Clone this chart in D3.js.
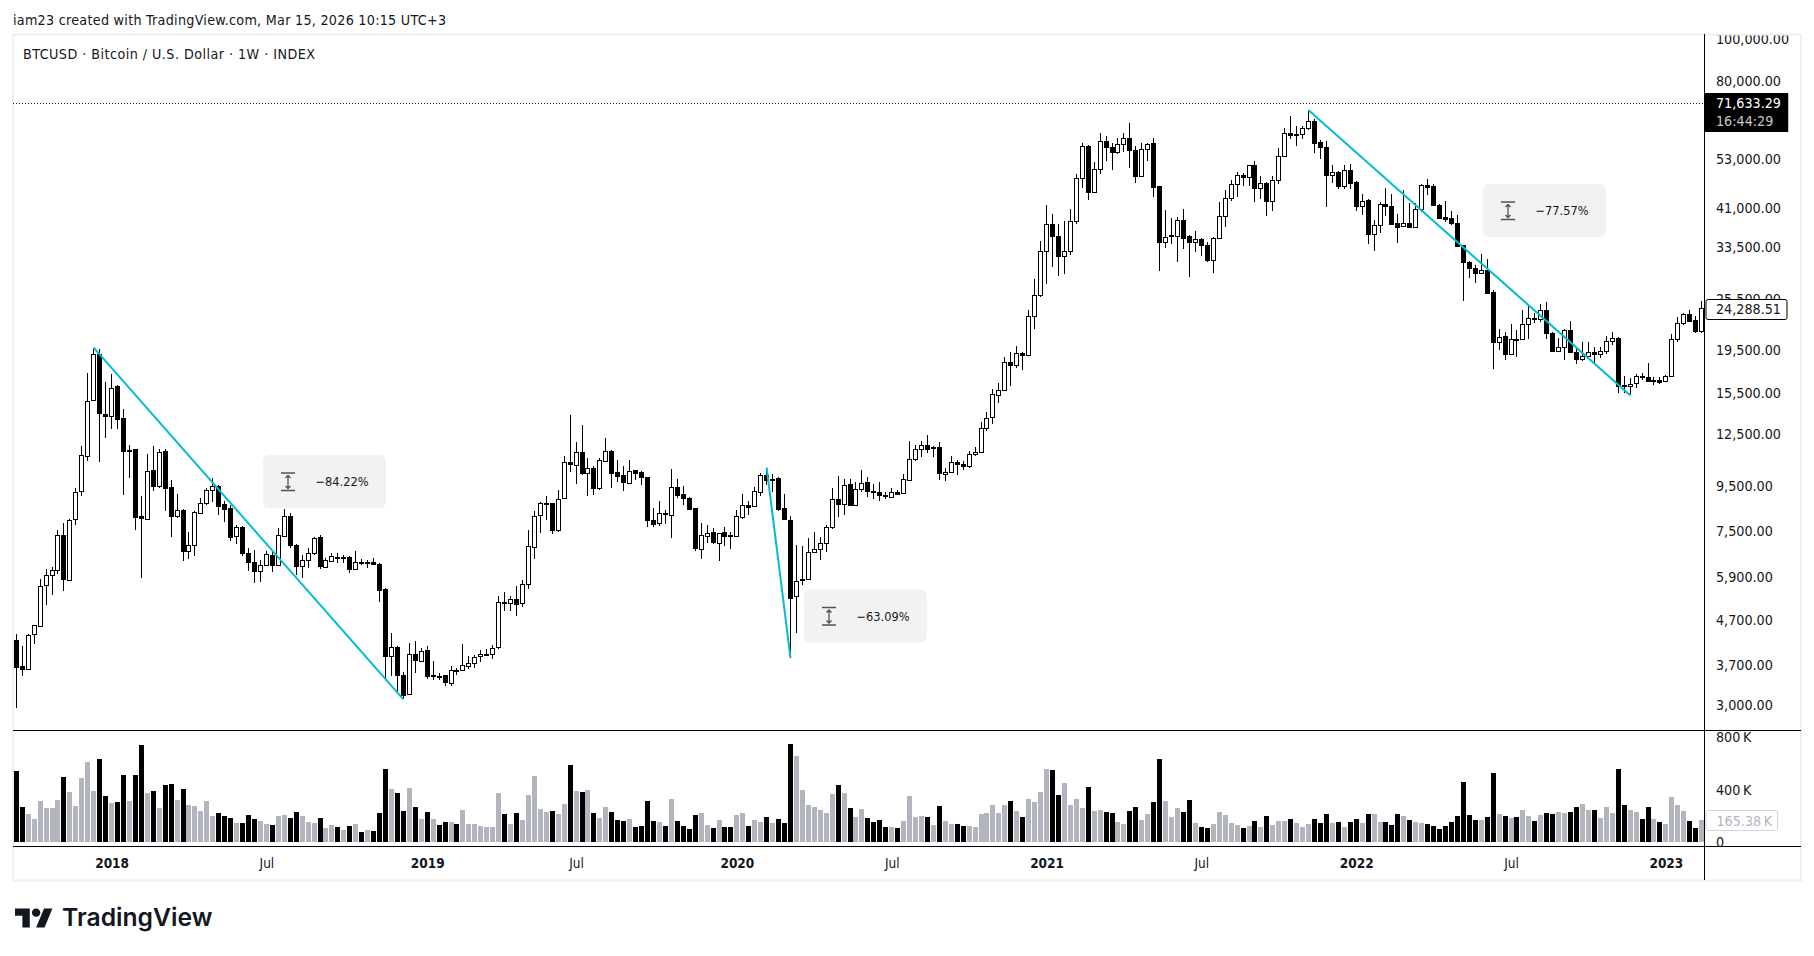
<!DOCTYPE html>
<html>
<head>
<meta charset="utf-8">
<title>BTCUSD</title>
<script src="https://cdn.jsdelivr.net/npm/d3@7"></script>
<style>
  html, body { margin: 0; padding: 0; background: #fff; }
  svg { display: block; }
  text { font-family: "DejaVu Sans Condensed", "DejaVu Sans", sans-serif; fill: #131722; }
</style>
</head>
<body>
<div id="chart"></div>
<script>
// weekly candles, first one is the week of 2017-09-11
const opens = [
  4227,3685,3640,4355,4550,5630,5940,6100,7340,5815,
  7970,9240,11170,14900,19020,13920,13750,16070,13580,11520,
  11540,8100,8000,10333,9510,11420,9450,8130,8400,6760,
  6960,8270,8700,9335,9530,8640,8460,7280,7660,6700,
  6390,6085,6285,6630,6280,7340,8140,6975,6245,6430,
  6670,7255,6210,6430,6555,6535,6530,6130,6380,6385,
  6375,6300,5530,3880,4070,3510,3170,3920,3800,4010,
  3510,3500,3510,3380,3620,3605,3705,3755,3875,3925,
  3930,4060,5155,5130,5260,5130,5670,6920,8140,8680,
  8680,7550,8900,10760,10640,11400,10190,10480,9410,10875,
  11460,10215,10050,9670,10333,10215,9950,7970,7790,8230,
  8170,9480,9140,8950,8450,6830,7310,7450,7050,7450,
  7330,7280,8100,8620,8520,9240,10100,9860,9910,8450,
  7970,5320,5815,5835,6725,6830,7050,7630,8860,8650,
  9590,8620,9365,9690,9230,9190,9040,8990,9220,9120,
  9840,10970,11580,11825,11650,11645,10130,10260,10815,10700,
  10570,11280,11400,12930,13630,15390,15760,18300,17980,19180,
  18940,23310,26020,32800,37800,35500,31880,32800,38400,48180,
  56960,44640,50480,58500,56670,55080,57550,59430,55800,48570,
  56100,57820,46060,34320,35500,35500,38600,35380,34320,34930,
  33870,31380,35140,39380,43250,46650,48900,48300,51350,45690,
  46900,42580,47550,54060,60990,60650,60650,62500,64980,58130,
  56670,48800,49500,46050,50220,47000,41470,42735,35800,37620,
  42000,41560,38000,37300,37950,37300,40900,46400,46060,41800,
  39220,39000,38000,33730,30960,29970,29100,29680,26380,20300,
  20900,19040,20630,20640,22340,22990,22940,24050,21320,19390,
  19800,21650,19290,18550,18860,19240,19060,19350,20390,20760,
  16130,16130,16300,16950,16900,16600,16650,16470,16950,20640,
  22450,23550,22738,21490
];
const highs = [
  4360,4095,4360,4580,5835,6130,6210,7537,7810,8000,
  9385,11720,17230,19690,19550,16440,17100,16150,14240,11800,
  11580,9010,11240,11720,11560,11580,9804,9100,8430,7460,
  8340,8950,9400,9910,9560,8790,8600,7740,7700,6860,
  6785,6437,6760,6725,7605,8415,8230,7020,6610,6880,
  7280,7340,6495,6670,6670,6610,6570,6740,6460,6437,
  6495,6330,5550,4380,4095,3570,4155,4205,4050,4095,
  3780,3550,3515,3685,3650,4150,3885,3900,4010,4040,
  4125,5330,5440,5330,5620,5795,7537,8340,8745,9010,
  8700,9335,11150,13800,11970,13090,11040,10590,10990,12210,
  11480,10891,10550,10891,10370,10295,9985,8450,8780,8373,
  10425,9840,9530,8990,8480,7810,7730,7605,7440,7660,
  7460,8400,9100,8790,9460,10160,10480,10120,9945,9140,
  8110,6960,6930,7220,7450,7255,7730,9385,10020,9855,
  9890,9700,10333,9985,9590,9700,9200,9385,9302,10120,
  12030,11825,12030,12420,11720,11970,10480,11150,10891,10850,
  11430,11645,13300,14000,15820,16380,18790,19290,19830,19290,
  24050,28200,34450,41620,39720,37700,38260,40770,49170,57910,
  57100,52200,60990,60000,57820,59430,60900,64300,56960,57820,
  57910,59230,46150,40546,39040,39150,40900,35600,36300,35000,
  34390,35240,42300,45042,47650,49500,49340,51450,52460,48490,
  47000,48610,56170,62400,66450,63050,63260,68598,65700,58800,
  58380,51370,49770,51370,51630,47230,44100,43030,38469,42300,
  45520,44250,39860,45042,42230,42150,46450,47720,46490,42000,
  42670,40400,39660,33870,31040,30360,32160,31450,26623,21690,
  21350,22250,21650,24050,24480,23620,24820,24990,21400,20760,
  21700,22600,19760,20280,20280,19760,19760,20900,21350,20830,
  16990,16740,17180,17270,18200,16880,16880,17020,21200,23120,
  23620,24050,23230,25130
];
const lows = [
  2960,3500,3630,4140,4535,5080,5355,6000,5480,5795,
  7750,9010,10850,14850,10790,12240,12820,12800,9070,9920,
  7537,5860,8000,9270,9385,8340,7280,8040,6410,6470,
  6570,8240,8590,8760,8160,7880,7125,7000,6570,6085,
  5710,5745,6245,6050,6270,7320,6880,5950,5875,6180,
  6610,6150,6180,6380,6330,6350,6020,6108,6260,6165,
  6260,5170,3455,3500,3195,3095,3165,3555,3795,3445,
  3435,3425,3320,3320,3520,3600,3635,3655,3770,3890,
  3825,4040,4925,4925,4790,5030,5530,6470,7420,7944,
  7375,7460,8880,10240,9600,10060,9010,9060,9302,10850,
  9410,9720,9270,9660,9804,9550,7670,7670,7710,7790,
  7240,8930,8590,8360,6750,6470,7050,6990,6410,6950,
  6830,7270,8000,8160,8510,9020,9550,9220,8340,7944,
  3855,4395,5650,5815,6715,6437,6715,7580,8060,8170,
  8590,8600,9220,8980,8860,8790,8900,8980,9060,9100,
  9830,10850,11060,11310,11090,9804,9770,10190,10060,10333,
  10460,11150,11380,12700,13180,14720,15750,16060,17690,17481,
  18860,21690,25710,27500,30100,28700,28980,32000,37700,45590,
  42800,44600,49060,52540,50037,54500,55200,50650,46740,48400,
  52540,43450,29400,33200,33930,30850,33020,28540,32560,31830,
  30850,29150,35100,37050,42500,43600,46000,46150,42300,42950,
  39320,40330,46490,53580,58900,56800,58900,61750,54800,53100,
  41200,46740,45350,45350,45350,40330,39500,33990,32700,36000,
  39320,37700,34150,37250,36950,37250,40180,43900,41560,38950,
  38120,37620,33440,25170,28330,27660,29000,26220,17550,19420,
  18490,19000,18750,20620,20600,22450,22500,20640,19350,19350,
  18490,19260,18070,18360,18750,18040,18640,19060,19930,15510,
  15510,15330,15930,16586,16410,16150,16230,16450,16930,20250,
  22130,22500,21320,21320
];
const closes = [
  3670,3630,4345,4565,5630,5940,6100,7340,5815,7970,
  9190,11170,14900,19020,13920,13750,15960,13530,11430,11430,
  8090,8000,10315,9510,11400,9410,8130,8400,6760,6960,
  8290,8700,9335,9530,8600,8430,7280,7650,6690,6375,
  6085,6280,6650,6280,7340,8140,6975,6245,6430,6670,
  7220,6220,6430,6590,6520,6525,6120,6360,6390,6380,
  6300,5505,3880,4070,3505,3165,3920,3790,3995,3490,
  3490,3505,3380,3620,3600,3705,3755,3870,3925,3935,
  4060,5155,5120,5250,5130,5670,6920,8140,8680,8690,
  7550,8900,10760,10620,11400,10190,10480,9410,10875,11460,
  10190,10020,9670,10315,10190,9930,7944,7790,8230,8170,
  9480,9100,8930,8430,6830,7340,7430,7050,7430,7310,
  7345,8100,8620,8520,9240,10100,9820,9880,8415,7955,
  5280,5770,5770,6725,6830,7050,7650,8860,8640,9570,
  8600,9365,9670,9220,9250,9030,9050,9220,9140,9840,
  10970,11580,11800,11560,11640,10130,10260,10815,10700,10570,
  11280,11400,12930,13630,15390,15760,18300,17980,19180,18940,
  23310,26020,32800,37800,35420,31880,32800,38400,48180,56960,
  44640,50480,58500,56550,55080,57550,59430,55670,48570,56100,
  57550,45900,34320,35240,35550,38600,35200,34320,34870,33800,
  31380,35140,39380,43250,46650,48900,48300,51350,45590,46900,
  42580,47650,54060,60990,60200,60200,62500,64840,58000,56550,
  48800,49600,46050,50220,46840,41470,42670,35800,37620,42000,
  41470,37900,37300,37950,37150,40900,46400,45900,41600,39080,
  38880,37950,33600,30880,29970,29130,29620,26250,20280,20830,
  19040,20640,20650,22340,23000,23060,24050,21320,19390,19800,
  21650,19290,18640,18890,19240,19060,19350,20390,20760,16130,
  16150,16300,16950,17000,16520,16620,16440,16950,20640,22450,
  23500,22650,21490,24288
];
// volume in thousands
const volumes = [
  542,267,214,176,313,260,260,321,496,382,
  275,489,611,389,634,351,298,305,512,313,
  512,741,374,389,260,435,443,321,405,282,
  275,237,313,199,221,199,183,145,145,206,
  176,160,137,130,199,206,183,229,199,153,
  145,183,107,130,115,92,122,137,76,92,
  84,221,557,405,374,237,412,267,176,229,
  176,130,153,153,137,244,137,137,122,115,
  115,374,214,137,221,168,359,504,252,229,
  237,214,290,588,389,382,397,221,183,267,
  229,168,160,176,115,122,313,160,153,122,
  328,160,122,99,206,221,130,107,168,115,
  115,206,221,122,168,153,191,145,176,145,
  748,657,397,282,267,244,221,366,435,374,
  260,191,252,183,153,168,115,115,107,160,
  351,191,199,191,130,275,160,137,137,122,
  122,115,214,221,282,221,282,313,237,191,
  328,305,382,557,550,359,450,282,328,260,
  420,237,244,229,221,153,137,237,267,168,
  214,305,634,313,191,260,229,321,145,115,
  107,137,229,206,145,130,107,122,160,115,
  199,130,160,160,176,145,115,137,176,145,
  214,145,153,115,153,176,145,214,214,153,
  153,130,214,199,168,153,145,137,122,99,
  122,153,199,458,206,168,168,191,527,214,
  199,183,191,244,199,160,206,221,214,229,
  221,229,267,290,244,244,183,267,221,557,
  282,244,229,176,267,176,153,137,344,282,
  237,160,107,165.38
];
// weeks whose volume bar is black
const downVolumeWeeks = [
  0,1,8,14,15,17,18,20,21,23,25,26,28,34,35,36,38,39,40,43,46,47,51,54,56,58,60,61,62,64,65,67,69,71,72,74,
  82,84,90,93,95,97,100,101,102,104,105,106,107,109,111,112,113,114,117,119,120,123,126,128,129,130,138,140,
  143,144,145,146,148,153,155,158,159,167,169,174,175,180,183,184,187,188,191,192,196,197,199,200,206,208,210,
  214,218,219,220,222,224,225,227,230,231,232,234,237,238,239,240,241,242,243,244,245,247,248,250,252,255,257,
  258,261,262,265,269,270,273,274,276,281,282
];
const priceTicks = [100000,80000,53000,41000,33500,25500,19500,15500,12500,9500,7500,5900,4700,3700,3000];
const volumeTicks = [0,400,800];
const timeTickWeeks = [16,42,69,94,121,147,173,199,225,251,277];
const timeTickLabels = ["2018","Jul","2019","Jul","2020","Jul","2021","Jul","2022","Jul","2023"];
// from week, to week, label
const measures = [
  [13, 65, "\u221284.22%"],
  [126, 130, "\u221263.09%"],
  [217, 271, "\u221277.57%"]
];
const lastClose = 24288.51;
const lastHighPrice = 71633.29;

const width = 1814, height = 956;
const axisX = 1704.5;
const axisFont = 14.2;

const svg = d3.select("#chart").append("svg")
  .attr("width", width)
  .attr("height", height);

const x = d3.scaleLinear().domain([0, opens.length - 1]).range([16.3, 1701.6]);
const y = d3.scaleLog().domain([3000, 100000]).range([705.3, 38.7]);
const yVol = d3.scaleLinear().domain([0, 800]).range([842, 737]);

// axis labels get cut by the pane edges
const defs = svg.append("defs");
defs.append("clipPath").attr("id", "price-clip").append("rect")
  .attr("x", axisX).attr("y", 35.5).attr("width", 97).attr("height", 695);
defs.append("clipPath").attr("id", "vol-clip").append("rect")
  .attr("x", axisX).attr("y", 731).attr("width", 97).attr("height", 115);

// frame
svg.append("rect")
  .attr("x", 13).attr("y", 34.5)
  .attr("width", 1788).attr("height", 846)
  .attr("fill", "none").attr("stroke", "#f0f0f0").attr("stroke-width", 2);

const texts = svg.append("g");
texts.append("text").attr("x", 13).attr("y", 25).attr("font-size", 14.2)
  .attr("textLength", 433).attr("lengthAdjust", "spacing")
  .text("iam23 created with TradingView.com, Mar 15, 2026 10:15 UTC+3");
texts.append("text").attr("x", 23).attr("y", 59).attr("font-size", 14.2)
  .attr("textLength", 292).attr("lengthAdjust", "spacing")
  .text("BTCUSD \u00b7 Bitcoin / U.S. Dollar \u00b7 1W \u00b7 INDEX");

// last high dotted line
svg.append("line")
  .attr("x1", 13).attr("x2", axisX)
  .attr("y1", 103.5).attr("y2", 103.5)
  .attr("stroke", "#131722").attr("stroke-dasharray", "1 2");

// volume
svg.append("g").selectAll("rect")
  .data(volumes)
  .enter().append("rect")
  .attr("x", (d, i) => Math.round(x(i) - 2.5))
  .attr("y", d => yVol(d))
  .attr("width", 5)
  .attr("height", d => yVol(0) - yVol(d))
  .attr("fill", (d, i) => downVolumeWeeks.includes(i) ? "#000" : "#b2b5be")
  .attr("shape-rendering", "crispEdges");

// wicks
const candles = svg.append("g").attr("shape-rendering", "crispEdges");
candles.selectAll("line")
  .data(opens)
  .enter().append("line")
  .attr("x1", (d, i) => Math.round(x(i) - 2.5) + 2.5)
  .attr("x2", (d, i) => Math.round(x(i) - 2.5) + 2.5)
  .attr("y1", (d, i) => y(highs[i]))
  .attr("y2", (d, i) => y(lows[i]))
  .attr("stroke", "#000");

// bodies
candles.selectAll("rect")
  .data(opens)
  .enter().append("rect")
  .attr("x", (d, i) => Math.round(x(i) - 2.5) + 0.5)
  .attr("y", (d, i) => Math.round(y(Math.max(d, closes[i]))) + 0.5)
  .attr("width", 4)
  .attr("height", (d, i) => Math.max(1, Math.round(y(Math.min(d, closes[i])) - y(Math.max(d, closes[i])))))
  .attr("fill", (d, i) => closes[i] < d ? "#000" : "#fff")
  .attr("stroke", "#000");

// measure lines
const measureG = svg.append("g");
measureG.selectAll("line")
  .data(measures)
  .enter().append("line")
  .attr("x1", d => x(d[0]))
  .attr("y1", d => y(highs[d[0]]))
  .attr("x2", d => x(d[1]))
  .attr("y2", d => y(lows[d[1]]))
  .attr("stroke", "#00bcd4")
  .attr("stroke-width", 2);

// measure labels, pill left / top next to each line
const pillPos = [[263, 455], [804, 589.5], [1483, 184]];
const pills = measureG.selectAll("g")
  .data(measures)
  .enter().append("g")
  .attr("transform", (d, i) => `translate(${pillPos[i][0]},${pillPos[i][1]})`);
pills.append("rect")
  .attr("width", 123).attr("height", 53).attr("rx", 6)
  .attr("fill", "#f2f2f2");
pills.append("text")
  .attr("x", 52.5).attr("y", 31).attr("font-size", 12.7)
  .text(d => d[2]);
pills.append("path")
  .attr("d", "M18 18h14M18 35.5h14M25 20.5v13M22.5 23l2.5-2.5 2.5 2.5M22.5 31l2.5 2.5 2.5-2.5")
  .attr("fill", "none").attr("stroke", "#50535e").attr("stroke-width", 1.3);

// pane lines
const lines = [[13, 1801, 730.5, 730.5], [13, 1801, 846.5, 846.5], [axisX, axisX, 34, 880]];
svg.append("g").selectAll("line")
  .data(lines)
  .enter().append("line")
  .attr("x1", d => d[0]).attr("x2", d => d[1])
  .attr("y1", d => d[2]).attr("y2", d => d[3])
  .attr("stroke", "#000");

// axes
const priceAxis = d3.axisRight(y).tickValues(priceTicks).tickSize(0).tickPadding(11.5)
  .tickFormat(d3.format(",.2f"));
const volAxis = d3.axisRight(yVol).tickValues(volumeTicks).tickSize(0).tickPadding(11.5)
  .tickFormat(d => d === 0 ? "0" : d + "\u2009K");
const timeAxis = d3.axisBottom(x).tickValues(timeTickWeeks).tickSize(0).tickPadding(0)
  .tickFormat((d, i) => timeTickLabels[i]);

const priceG = svg.append("g").attr("clip-path", "url(#price-clip)")
  .append("g").attr("transform", `translate(${axisX},0)`).call(priceAxis);
const volG = svg.append("g").attr("clip-path", "url(#vol-clip)")
  .append("g").attr("transform", `translate(${axisX},0)`).call(volAxis);
const timeG = svg.append("g").attr("transform", "translate(0,858)").call(timeAxis);

[priceG, volG, timeG].forEach(g => {
  g.select(".domain").remove();
  g.attr("font-family", null).attr("font-size", null);
});
priceG.selectAll("text").attr("font-size", axisFont);
volG.selectAll("text").attr("font-size", axisFont);
timeG.selectAll("text").attr("font-size", 13.5)
  .attr("font-weight", (d, i) => timeTickLabels[i] === "Jul" ? "normal" : "bold");

// last high label, black box with countdown
svg.append("rect")
  .attr("x", 1788).attr("y", 94).attr("width", 1).attr("height", 38)
  .attr("fill", "#c4c4c4");
svg.append("rect")
  .attr("x", axisX).attr("y", 93).attr("width", 83.5).attr("height", 39)
  .attr("fill", "#000");
svg.append("text").attr("x", 1716).attr("y", 107.5).attr("font-size", axisFont)
  .style("fill", "#fff")
  .text(d3.format(",.2f")(lastHighPrice));
svg.append("text").attr("x", 1716).attr("y", 125.7).attr("font-size", axisFont)
  .style("fill", "#c8c8c8").text("16:44:29");

// last close label
svg.append("rect")
  .attr("x", 1706).attr("y", 299.5).attr("width", 81).attr("height", 20).attr("rx", 2)
  .attr("fill", "#fff").attr("stroke", "#000");
svg.append("text").attr("x", 1716).attr("y", 314).attr("font-size", axisFont)
  .text(d3.format(",.2f")(lastClose));

// last volume label
const lastVol = volumes[volumes.length - 1];
svg.append("rect")
  .attr("x", 1706).attr("y", 810.5).attr("width", 71.5).attr("height", 20).attr("rx", 2)
  .attr("fill", "#fff").attr("stroke", "#d1d4dc");
svg.append("text").attr("x", 1716.5).attr("y", 825.5).attr("font-size", axisFont)
  .style("fill", "#b2b5be").text(lastVol + "\u2009K");

// logo
const logo = svg.append("g").attr("transform", "translate(15,904.2) scale(1.055)");
logo.append("path").attr("d", "M14 22H7V11H0V4h14v18zM28 22h-8l7.5-18h8L28 22z").attr("fill", "#131722");
logo.append("circle").attr("cx", 20).attr("cy", 8).attr("r", 4).attr("fill", "#131722");
svg.append("text").attr("x", 62).attr("y", 926)
  .attr("font-size", 24.7).attr("font-weight", 600)
  .style("font-family", "Inter, sans-serif")
  .text("TradingView");
</script>
</body>
</html>
